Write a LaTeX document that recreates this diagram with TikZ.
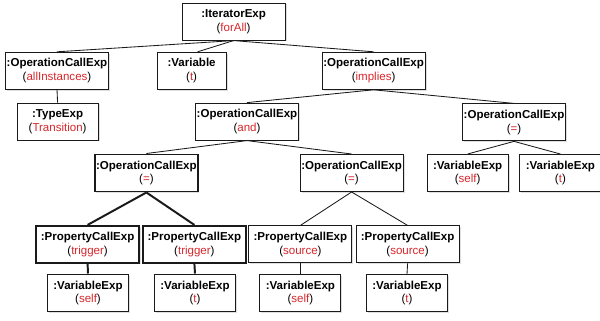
\documentclass[tikz,border=0pt]{standalone}
\usepackage{fontspec}
\setmainfont{Liberation Sans}
\usepackage{xcolor}
\definecolor{argred}{HTML}{D7262B}
\definecolor{edge}{HTML}{1A1A1A}
\usepackage{tikz}
\usetikzlibrary{shadows}
\newcommand{\obj}[2]{\textbf{:#1}\\(\textcolor{argred}{#2})}
\tikzset{
  box/.style={draw=edge,line width=0.7pt,fill=white,align=center,inner sep=0pt,
    minimum width=25.75mm,minimum height=9.25mm,font=\fontsize{8.2}{9.9}\selectfont,
    drop shadow={shadow xshift=0.35mm,shadow yshift=-0.35mm,opacity=0.25}},
  vbox/.style={box,minimum width=20.25mm},
  tbox/.style={box,line width=1.4pt},
  tvbox/.style={vbox,line width=1.4pt},
  link/.style={draw=edge,line width=0.6pt},
  tlink/.style={draw=edge,line width=1.4pt},
}
\begin{document}
\begin{tikzpicture}[x=1mm,y=1mm]
\useasboundingbox (0,0) rectangle (150,80);
% level 0
\node[box] (iter) at (58.4,74.6) {\obj{IteratorExp}{forAll}};
% level 1
\node[box] (allinst) at (14.25,62.3) {\obj{OperationCallExp}{allInstances}};
\node[box,minimum width=17.25mm] (var) at (47.9,62.3) {\obj{Variable}{t}};
\node[box] (implies) at (93.4,62.3) {\obj{OperationCallExp}{implies}};
% level 2
\node[vbox] (type) at (14.4,49.6) {\obj{TypeExp}{Transition}};
\node[box] (and) at (61.75,49.6) {\obj{OperationCallExp}{and}};
\node[box] (eqr) at (128.5,49.4) {\obj{OperationCallExp}{=}};
% level 3
\node[tbox] (eqa) at (36.6,36.75) {\obj{OperationCallExp}{=}};
\node[box] (eqb) at (87.9,36.75) {\obj{OperationCallExp}{=}};
\node[vbox] (rself) at (116.9,36.75) {\obj{VariableExp}{self}};
\node[vbox] (rt) at (140.1,36.75) {\obj{VariableExp}{t}};
% level 4
\node[tbox] (trig1) at (21.9,18.9) {\obj{PropertyCallExp}{trigger}};
\node[tbox] (trig2) at (48.6,18.9) {\obj{PropertyCallExp}{trigger}};
\node[box] (src1) at (75.1,18.9) {\obj{PropertyCallExp}{source}};
\node[box] (src2) at (101.9,18.9) {\obj{PropertyCallExp}{source}};
% level 5
\node[tvbox] (vself1) at (22,6.75) {\obj{VariableExp}{self}};
\node[tvbox] (vt1) at (48.75,6.75) {\obj{VariableExp}{t}};
\node[vbox] (vself2) at (75.1,6.75) {\obj{VariableExp}{self}};
\node[vbox] (vt2) at (101.75,6.75) {\obj{VariableExp}{t}};
% edges
\draw[link] (iter.south) -- (allinst.north);
\draw[link] (iter.south) -- ([xshift=1.5mm]var.north);
\draw[link] (iter.south) -- (implies.north);
\draw[link] (allinst.south) -- (type.north);
\draw[link] (implies.south) -- (and.north);
\draw[link] (implies.south) -- (eqr.north);
\draw[link] (and.south) -- (eqa.north);
\draw[link] (and.south) -- (eqb.north);
\draw[link] (eqr.south) -- (rself.north);
\draw[link] (eqr.south) -- (rt.north);
\draw[tlink] (eqa.south) -- (trig1.north);
\draw[tlink] (eqa.south) -- (trig2.north);
\draw[link] (eqb.south) -- (src1.north);
\draw[link] (eqb.south) -- (src2.north);
\draw[tlink] (trig1.south) -- (vself1.north);
\draw[tlink] (trig2.south) -- (vt1.north);
\draw[link] (src1.south) -- (vself2.north);
\draw[link] (src2.south) -- (vt2.north);
\end{tikzpicture}
\end{document}
